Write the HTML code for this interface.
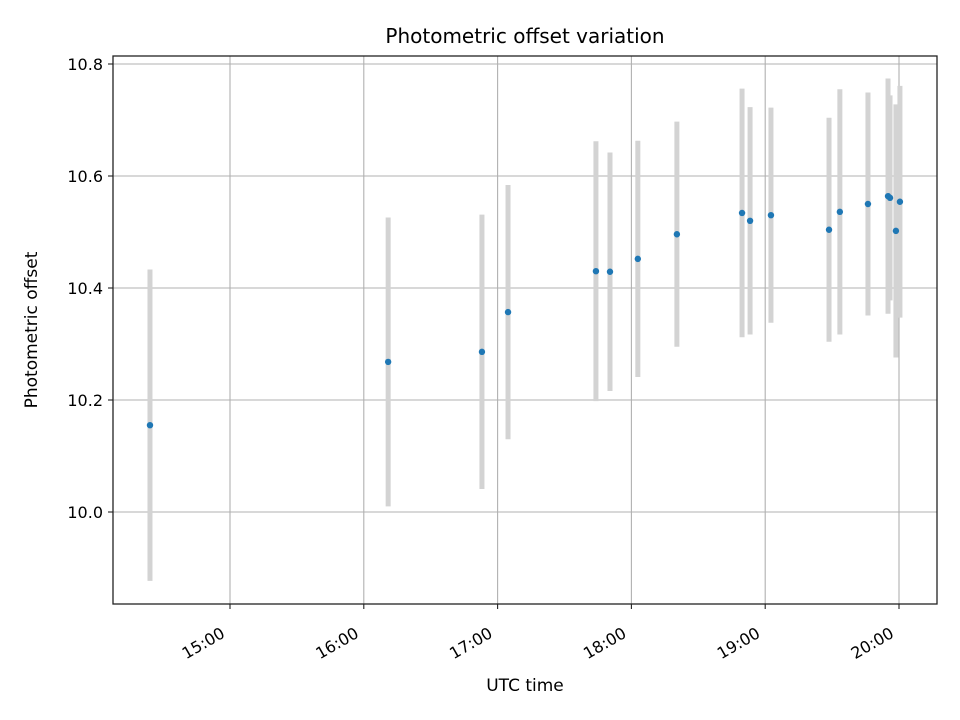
<!DOCTYPE html>
<html><head><meta charset="utf-8"><style>
html,body{margin:0;padding:0;background:#fff;}
svg{display:block;font-family:"DejaVu Sans","Liberation Sans",sans-serif;}
</style></head><body>
<svg id="chart" width="960" height="720" viewBox="0 0 960 720" xmlns="http://www.w3.org/2000/svg">
<rect width="960" height="720" fill="#fff"/>
<text x="525" y="43" text-anchor="middle" font-size="20">Photometric offset variation</text>
<g id="grid"></g>
<g id="errbars"></g>
<g id="points"></g>
<g id="xaxis"></g>
<g id="yaxis"></g>
<rect x="113" y="56" width="824" height="548" fill="none" stroke="#222" stroke-width="1.3"/>
<text x="525" y="691" text-anchor="middle" font-size="17">UTC time</text>
<text transform="translate(37,330) rotate(-90)" text-anchor="middle" font-size="17">Photometric offset</text>
</svg>
<script>
// times in decimal hours UTC
const times = [14.402,16.182,16.883,17.078,17.735,17.840,18.048,18.340,18.827,18.887,19.043,19.477,19.558,19.768,19.918,19.933,19.977,20.007];
const offsets = [10.155,10.268,10.286,10.357,10.430,10.429,10.452,10.496,10.534,10.520,10.530,10.504,10.536,10.550,10.564,10.561,10.502,10.554];
const errors = [0.278,0.258,0.245,0.227,0.232,0.213,0.211,0.201,0.222,0.203,0.192,0.200,0.219,0.199,0.210,0.183,0.226,0.207];
const xTicks = [15,16,17,18,19,20];
const xTickLabels = ["15:00","16:00","17:00","18:00","19:00","20:00"];
const yTicks = [10.0,10.2,10.4,10.6,10.8];
const yTickLabels = ["10.0","10.2","10.4","10.6","10.8"];

const NS="http://www.w3.org/2000/svg";
const L=113,R=937,T=56,B=604;
function xs(h){return 230+(h-15)*133.8;}
function ys(v){return 512-(v-10)*560;}
function mk(tag,attrs,parent){const e=document.createElementNS(NS,tag);for(const k in attrs)e.setAttribute(k,attrs[k]);parent.appendChild(e);return e;}
const grid=document.getElementById('grid'),eb=document.getElementById('errbars'),pts=document.getElementById('points'),xa=document.getElementById('xaxis'),ya=document.getElementById('yaxis');

xTicks.forEach((t,i)=>{
  const x=xs(t);
  const g=mk('line',{x1:x,x2:x,y1:T,y2:B,stroke:'#b0b0b0','stroke-width':1.1},grid);
  
  
  const tk=mk('line',{x1:x,x2:x,y1:B,y2:B+5,stroke:'#222','stroke-width':1.1},xa);
  
  
  const ax=x-10, ay=B+22;
  const tx=mk('text',{x:ax,y:ay+12,'text-anchor':'end','font-size':16,transform:`rotate(-30 ${ax} ${ay})`},xa);
  tx.textContent=xTickLabels[i];
  
  
});
yTicks.forEach((v,i)=>{
  const y=ys(v);
  const g=mk('line',{x1:L,x2:R,y1:y,y2:y,stroke:'#b0b0b0','stroke-width':1.1},grid);
  
  
  const tk=mk('line',{x1:L-5,x2:L,y1:y,y2:y,stroke:'#222','stroke-width':1.1},ya);
  
  
  const tx=mk('text',{x:L-10,y:y+6,'text-anchor':'end','font-size':16},ya);
  tx.textContent=yTickLabels[i];
  
  
});
times.forEach((t,i)=>{
  const x=xs(t);
  const b=mk('line',{x1:x,x2:x,y1:ys(offsets[i]+errors[i]),y2:ys(offsets[i]-errors[i]),stroke:'#d3d3d3','stroke-width':5},eb);
  
  
});
times.forEach((t,i)=>{
  const c=mk('circle',{cx:xs(t),cy:ys(offsets[i]),r:3.2,fill:'#1f77b4'},pts);
  
  
});
</script>
</body></html>
